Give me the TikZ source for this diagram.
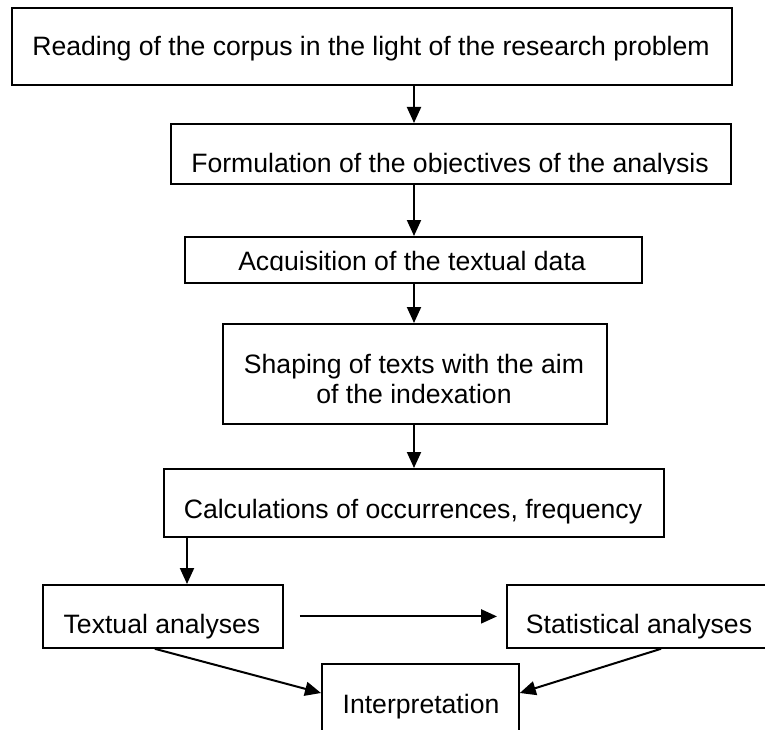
\documentclass[tikz,border=0pt]{standalone}
\usepackage{fontspec}
\setmainfont{Liberation Sans}
\usetikzlibrary{arrows.meta,calc}
\begin{document}
\begin{tikzpicture}[x=1pt,y=-1pt,
 box/.style={draw,line width=1.8pt,inner sep=0pt,anchor=north west},
 lbl/.style={font=\fontsize{26.6}{30}\selectfont,anchor=base,inner sep=0pt},
 arr/.style={line width=2pt,-{Triangle[length=16pt,width=14pt]}}]
\useasboundingbox (0,0) rectangle (765,730);
\clip (0,0) rectangle (765,730);
% boxes
\node[box,minimum width=720pt,minimum height=77pt] (b1) at (11,7) {};
\node[box,minimum width=560pt,minimum height=60pt] (b2) at (170,123) {};
\node[box,minimum width=457pt,minimum height=46pt] (b3) at (184,236) {};
\node[box,minimum width=384pt,minimum height=100pt] (b4) at (222,323) {};
\node[box,minimum width=500pt,minimum height=68pt] (b5) at (163,468) {};
\node[box,minimum width=240pt,minimum height=63pt] (b6) at (42,584) {};
\node[box,minimum width=280pt,minimum height=63pt] (b7) at (506,584) {};
\node[box,minimum width=197pt,minimum height=90pt] (b8) at (321,663) {};
% texts
\node[lbl] (t1) at (371,56) {Reading of the corpus in the light of the research problem};
\begin{scope}
\clip (0,123) rectangle (765,173.5);
\node[lbl] (t2) at (450,173) {Formulation of the objectives of the analysis};
\end{scope}
\begin{scope}
\clip (0,236) rectangle (765,270);
\node[lbl] (t3) at (412,270) {Acquisition of the textual data};
\end{scope}
\node[lbl,align=center] (t4) at (414,403) {Shaping of texts with the aim\\of the indexation};
\node[lbl] (t5) at (413,518) {Calculations of occurrences, frequency};
\node[lbl] (t6) at (162,633) {Textual analyses};
\node[lbl] (t7) at (639,633) {Statistical analyses};
\node[lbl] (t8) at (421,713) {Interpretation};
% connectors
\coordinate (cx) at (414,0);
\coordinate (cl) at (187,0);
\draw[arr] (b1.south -| cx) -- (b2.north -| cx);
\draw[arr] (b2.south -| cx) -- (b3.north -| cx);
\draw[arr] (b3.south -| cx) -- (b4.north -| cx);
\draw[arr] (b4.south -| cx) -- (b5.north -| cx);
\draw[arr] (b5.south -| cl) -- (b6.north -| cl);
\draw[arr,shorten <=16pt,shorten >=9pt] (b6.east) -- (b7.west);
\draw[arr] ($(b6.south)+(-8,0)$) -- ($(b8.north west)+(0,30)$);
\draw[arr] ($(b7.south west)+(155,0)$) -- ($(b8.north east)+(0,30)$);
\end{tikzpicture}
\end{document}
